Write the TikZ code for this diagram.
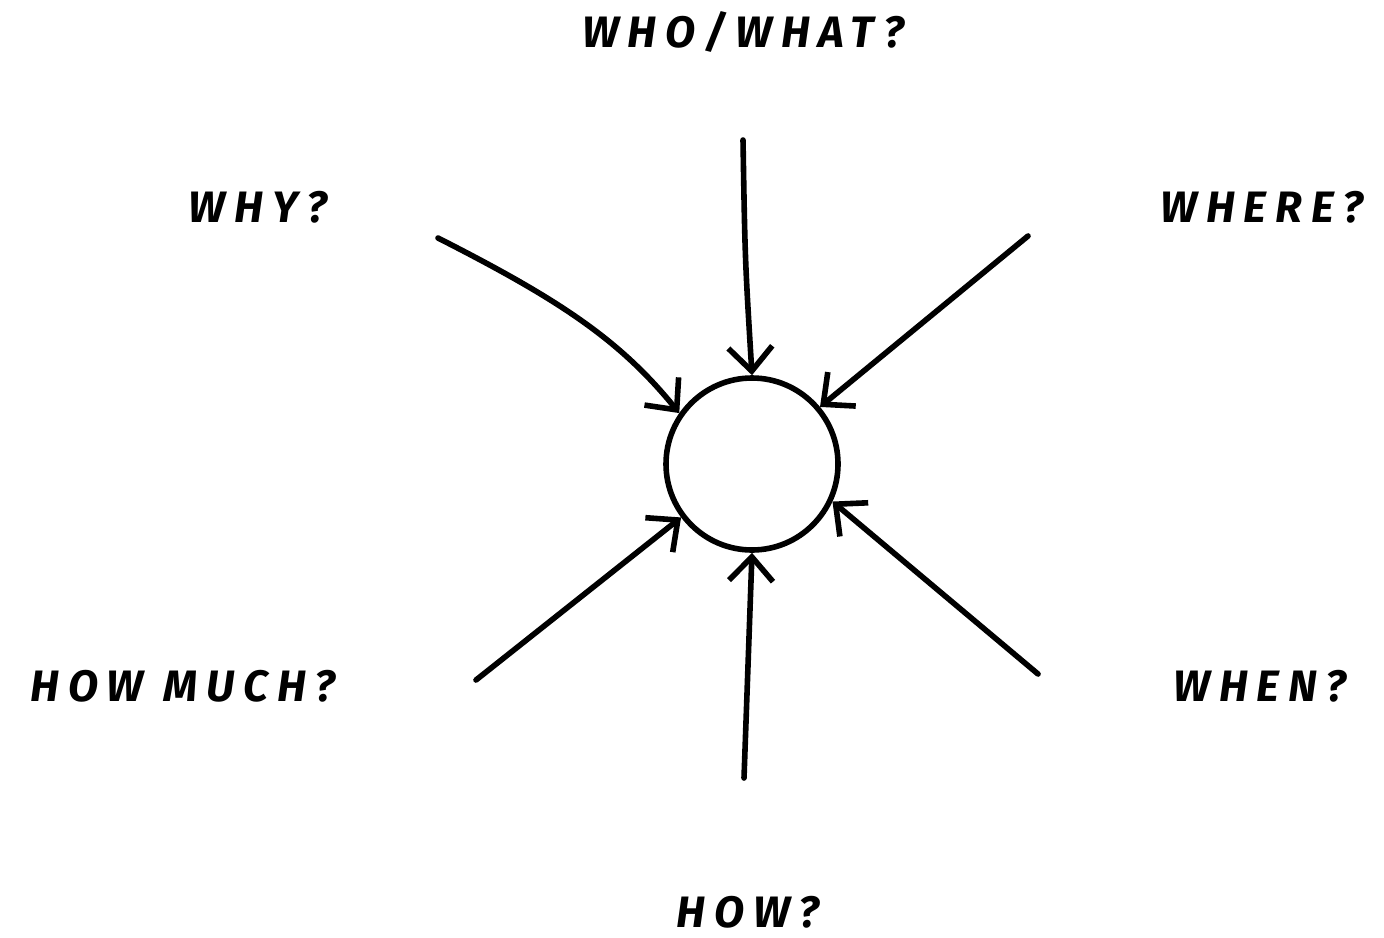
\documentclass[tikz,border=0pt]{standalone}
\usepackage{fontspec}
\setmainfont{Fira Sans}[LetterSpace=20]
\usetikzlibrary{arrows.meta}

\begin{document}
\begin{tikzpicture}[
        x=0.5pt, y=-0.5pt,
        hub/.style={circle, draw, line width=2.8pt, minimum size=86pt, inner sep=0pt},
        ask/.style={font=\fontsize{22}{24}\selectfont\bfseries\itshape, inner sep=0pt},
        pull/.style={line width=2.8pt, line cap=round, -{Straight Barb[length=12pt, width=22pt, line width=2.8pt]}}
    ]
        \useasboundingbox (0,0) rectangle (1384,937);
        \node[hub] (core) at (752,464) {};

        \node[ask] (who) at (743,32) {WHO/WHAT?};
        \node[ask] (why) at (258,207) {WHY?};
        \node[ask] (where) at (1262,207) {WHERE?};
        \node[ask] (much) at (183,686) {HOW\hspace{10pt}MUCH?};
        \node[ask] (when) at (1260,686) {WHEN?};
        \node[ask] (how) at (748,912) {HOW?};

        \coordinate (whoT) at (743,140);
        \coordinate (whyT) at (438,238);
        \coordinate (whereT) at (1028,236);
        \coordinate (muchT) at (476,680);
        \coordinate (whenT) at (1038,674);
        \coordinate (howT) at (744,778);

        \draw[pull] (whoT) .. controls (745,260) .. (core.north);
        \draw[pull] (whyT) .. controls (560,300) and (620,340) .. (core.145);
        \draw[pull] (whereT) -- (core.40);
        \draw[pull] (muchT) -- (core.217);
        \draw[pull] (whenT) -- (core.-25);
        \draw[pull] (howT) -- (core.south);
    \end{tikzpicture}
\end{document}
